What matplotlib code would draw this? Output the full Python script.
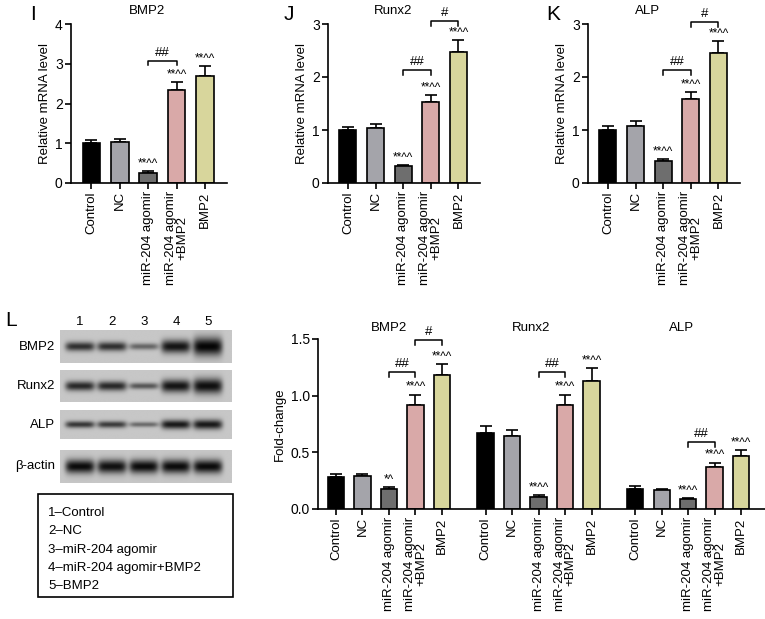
import numpy as np
import matplotlib
matplotlib.use("Agg")
import matplotlib.pyplot as plt
from matplotlib.patches import Rectangle

plt.rcParams['font.family'] = ['Liberation Sans', 'DejaVu Sans']
plt.rcParams['font.size'] = 9.5

W, H = 765, 619

groups = ["Control", "NC", "miR-204 agomir", "miR-204 agomir\n+BMP2", "BMP2"]
colors = ["#000000", "#a4a4aa", "#6e6e6e", "#d9a9a8", "#d8d69c"]

# panels I, J, K - relative mRNA level
mrna_genes = ["BMP2", "Runx2", "ALP"]
mrna_letters = ["I", "J", "K"]
mrna_mean = [[1.00, 1.04, 0.26, 2.34, 2.69],
             [1.00, 1.04, 0.32, 1.53, 2.48],
             [1.00, 1.08, 0.42, 1.58, 2.45]]
mrna_err = [[0.08, 0.06, 0.03, 0.21, 0.25],
            [0.06, 0.07, 0.02, 0.13, 0.22],
            [0.07, 0.09, 0.03, 0.13, 0.22]]
mrna_ymax = [4, 3, 3]
mrna_sig = [["", "", "**^^", "**^^", "**^^"]] * 3
# brackets: (left bar, right bar, height, label)
mrna_brackets = [[(2, 3, 3.08, "##")],
                 [(2, 3, 2.13, "##"), (3, 4, 3.05, "#")],
                 [(2, 3, 2.13, "##"), (3, 4, 3.04, "#")]]
mrna_axes_px = [(71, 227), (328, 480), (588, 740)]
mrna_title_x = [0.49, 0.43, 0.39]
mrna_letter_px = [30, 284, 546]

# panel L - western blot quantification
wb_genes = ["BMP2", "Runx2", "ALP"]
wb_mean = [[0.28, 0.29, 0.18, 0.92, 1.18],
           [0.67, 0.64, 0.11, 0.92, 1.13],
           [0.18, 0.17, 0.09, 0.37, 0.47]]
wb_err = [[0.03, 0.02, 0.01, 0.09, 0.10],
          [0.06, 0.06, 0.01, 0.09, 0.11],
          [0.02, 0.01, 0.01, 0.04, 0.05]]
wb_sig = [["", "", "*^", "**^^", "**^^"],
          ["", "", "**^^", "**^^", "**^^"],
          ["", "", "**^^", "**^^", "**^^"]]
wb_brackets = [[(2, 3, 1.21, "##"), (3, 4, 1.49, "#")],
               [(2, 3, 1.21, "##")],
               [(2, 3, 0.59, "##")]]
wb_title_shift = [0.0, -0.3, -0.25]
group_step = 5.65

# blot band darkness per lane
blot_rows = ["BMP2", "Runx2", "ALP", "β-actin"]
blot_dark = [[0.78, 0.78, 0.50, 0.92, 1.00],
             [0.82, 0.82, 0.58, 0.92, 0.95],
             [0.75, 0.72, 0.48, 0.90, 0.90],
             [0.97, 0.94, 0.97, 0.97, 0.97]]
blot_thick = [[0.28, 0.28, 0.20, 0.40, 0.55],
              [0.30, 0.30, 0.20, 0.40, 0.48],
              [0.24, 0.24, 0.18, 0.32, 0.34],
              [0.42, 0.42, 0.42, 0.42, 0.42]]
legend_lines = ["1\u2013Control", "2\u2013NC", "3\u2013miR-204 agomir",
                "4\u2013miR-204 agomir+BMP2", "5\u2013BMP2"]

fig = plt.figure(figsize=(W / 100, H / 100), dpi=100)


def px_axes(l, t, r, b):
    return fig.add_axes([l / W, 1 - b / H, (r - l) / W, (b - t) / H])


def style(ax):
    for s in ["top", "right"]:
        ax.spines[s].set_visible(False)
    for s in ["left", "bottom"]:
        ax.spines[s].set_linewidth(1.2)
    ax.tick_params(width=1.2, length=4, labelsize=10, pad=2)


def bracket(ax, x1, x2, y, label, dy, fs=9.5):
    ax.plot([x1, x1, x2, x2], [y - dy, y, y, y - dy], color="k", lw=1.1, clip_on=False)
    ax.text((x1 + x2) / 2, y + dy * 0.4, label, ha="center", va="bottom", fontsize=fs)


def draw_bars(ax, pos, means, errs, sigs, dy):
    ax.bar(pos, means, width=0.62, color=colors, edgecolor="k", linewidth=1.2, zorder=2)
    for x, m, e, s in zip(pos, means, errs, sigs):
        ax.errorbar(x, m, yerr=[[0], [e]], color="k", capsize=4, elinewidth=1.2,
                    capthick=1.2, zorder=1)
        if s:
            ax.text(x, m + e + dy, s, ha="center", va="bottom", fontsize=8.5)


# top row
for g in range(3):
    l, r = mrna_axes_px[g]
    ax = px_axes(l, 24, r, 183)
    style(ax)
    pos = np.arange(5)
    draw_bars(ax, pos, mrna_mean[g], mrna_err[g], mrna_sig[g], 0.02 * mrna_ymax[g] / 3)
    for i, j, y, lab in mrna_brackets[g]:
        bracket(ax, i, j, y, lab, 0.09 * mrna_ymax[g] / 3)
    ax.set_ylim(0, mrna_ymax[g])
    ax.set_yticks(range(mrna_ymax[g] + 1))
    ax.set_xlim(-0.72, 4.78)
    ax.set_xticks(pos)
    ax.set_xticklabels(groups, rotation=90, linespacing=0.9, fontsize=9.5)
    ax.set_ylabel("Relative mRNA level", labelpad=3)
    ax.text(mrna_title_x[g], 1 + 13 / 159, mrna_genes[g], transform=ax.transAxes,
            ha="center", va="center", fontsize=9.5)
    fig.text(mrna_letter_px[g] / W, 1 - 14 / H, mrna_letters[g], fontsize=15, va="center")

# bottom chart
ax = px_axes(318, 339, 765, 509)
style(ax)
ticks, labels = [], []
for g in range(3):
    pos = np.arange(5) + g * group_step
    draw_bars(ax, pos, wb_mean[g], wb_err[g], wb_sig[g], 0.01)
    for i, j, y, lab in wb_brackets[g]:
        bracket(ax, pos[i], pos[j], y, lab, 0.045)
    ax.text(pos[2] + wb_title_shift[g], 1.6, wb_genes[g], ha="center", va="center",
            fontsize=9.5)
    ticks += list(pos)
    labels += groups
ax.set_ylim(0, 1.5)
ax.set_yticks([0, 0.5, 1.0, 1.5])
ax.set_yticklabels(["0.0", "0.5", "1.0", "1.5"])
ax.set_xlim(-0.68, 16.2)
ax.set_xticks(ticks)
ax.set_xticklabels(labels, rotation=90, linespacing=0.9, fontsize=9.5)
ax.set_ylabel("Fold-change", labelpad=3)

# western blot
fig.text(5 / W, 1 - 320 / H, "L", fontsize=15, va="center")
lane_px = np.arange(5)
row_px = [(330, 363), (370, 402), (410, 439), (450, 483)]
xs = np.linspace(-0.62, 4.75, 300)
for k, (t, b) in enumerate(row_px):
    bax = px_axes(60, t, 232, b)
    ys = np.linspace(-1, 1, 60)
    X, Y = np.meshgrid(xs, ys)
    img = np.full(X.shape, 0.78)
    for ln in lane_px:
        d = blot_dark[k][ln]
        th = blot_thick[k][ln]
        prof = np.exp(-((X - ln) / 0.46) ** 6) * np.exp(-(Y / th) ** 2)
        img -= 0.76 * d * prof
    bax.imshow(np.clip(img, 0, 1), cmap="gray", vmin=0, vmax=1, aspect="auto",
               extent=[xs[0], xs[-1], -1, 1])
    bax.set_xticks([])
    bax.set_yticks([])
    for s in bax.spines.values():
        s.set_visible(False)
    fig.text(55 / W, 1 - (t + b) / 2 / H, blot_rows[k], ha="right", va="center", fontsize=9.5)
    if k == 0:
        for ln in lane_px:
            fig.text((80 + 32 * ln) / W, 1 - 322 / H, str(ln + 1), ha="center",
                     va="center", fontsize=9.5)

# legend box
fig.patches.append(Rectangle((38 / W, 1 - 597 / H), 195 / W, 103 / H,
                             transform=fig.transFigure, fill=False, lw=1.2, ec="k"))
for n, line in enumerate(legend_lines):
    fig.text(48 / W, 1 - (513 + 18.3 * n) / H, line, va="center", fontsize=9.5)

fig.savefig("out.png", dpi=100)
